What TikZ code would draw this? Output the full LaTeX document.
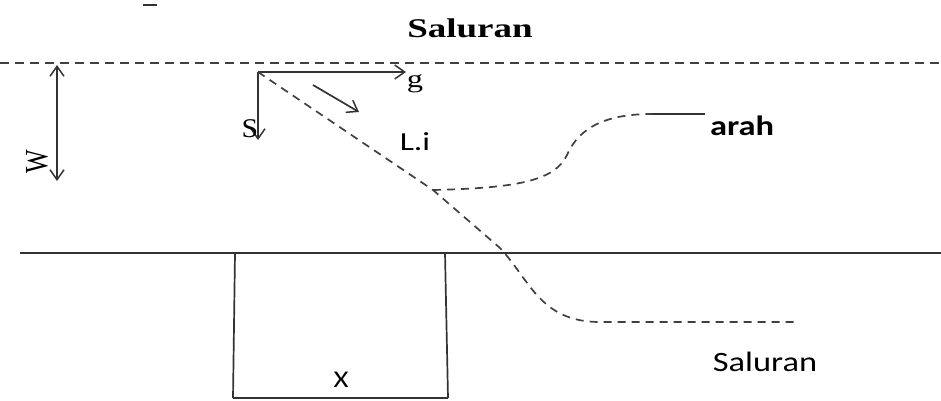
\documentclass[tikz,border=0pt]{standalone}
\usepackage{fontspec}
\setmainfont{Liberation Serif}
\setsansfont{Carlito}
\usetikzlibrary{arrows.meta}
\begin{document}
\begin{tikzpicture}[x=1pt,y=-1pt,
  ln/.style={draw=black!80,line width=1.7pt},
  dsh/.style={draw=black!75,line width=1.7pt,dash pattern=on 8pt off 6pt},
  arr/.style={ln,-{Straight Barb[length=10pt,width=14pt,line width=1.5pt]}},
  darr/.style={ln,{Straight Barb[length=10pt,width=14pt,line width=1.5pt]}-{Straight Barb[length=10pt,width=14pt,line width=1.5pt]}},
  lbl/.style={inner sep=0pt,text=black}]
\useasboundingbox (0,0) rectangle (941,400);
% top tiny dash
\coordinate (t1) at (143,5); \coordinate (t2) at (157,5);
\draw[ln] (t1) -- (t2);
\node[lbl,xscale=1.37,font=\bfseries\fontsize{27}{27}\selectfont] (title) at (470,28) {Saluran};
% top dashed water line
\coordinate (d1) at (0,63); \coordinate (d2) at (941,63);
\draw[ln,draw=black!75,dash pattern=on 9pt off 6pt] (d1) -- (d2);
% W double arrow
\coordinate (w1) at (57,65); \coordinate (w2) at (57,181);
\draw[darr] (w1) -- (w2);
\node[lbl,rotate=90,font=\fontsize{25}{25}\selectfont] (W) at (37,162) {\scalebox{1}[1.3]{W}};
% corner and axes
\coordinate (o) at (258,72);
\coordinate (ge) at (406,72);
\coordinate (se) at (258,140);
\draw[arr] (o) -- (ge);
\draw[arr] (o) -- (se);
\node[lbl,xscale=1.3,font=\fontsize{25}{25}\selectfont] (g) at (415,84) {g};
\node[lbl,xscale=1.1,font=\fontsize{27}{27}\selectfont] (S) at (250,129) {S};
% small direction arrow
\coordinate (a1) at (313,85); \coordinate (a2) at (359,112);
\draw[arr] (a1) -- (a2);
\node[lbl,xscale=1.3,font=\sffamily\fontsize{26}{26}\selectfont] (Li) at (415,142) {L.i};
% L.i dashed line
\coordinate (m) at (433,190);
\coordinate (c) at (500,248);
\coordinate (e) at (795,322);
\draw[dsh] (o) -- (m) -- (c) .. controls (530,280) and (540,322) .. (600,322) -- (e);
% arah curve
\coordinate (r1) at (652,114);
\coordinate (r2) at (705,114);
\draw[dsh] (m) .. controls (520,188) and (555,180) .. (567,155)
  .. controls (580,125) and (610,114) .. (r1);
\draw[ln] (r1) -- (r2);
\node[lbl,xscale=1.23,font=\sffamily\bfseries\fontsize{28}{28}\selectfont] (arah) at (742,126) {arah};
% ground line
\coordinate (h1) at (20,253); \coordinate (h2) at (941,253);
\draw[ln] (h1) -- (h2);
% box
\coordinate (b1) at (235,253); \coordinate (b2) at (233,398);
\coordinate (b3) at (448,398); \coordinate (b4) at (445,253);
\draw[ln] (b1) -- (b2);
\draw[ln] (b4) -- (b3);
\draw[ln] (b2) -- (b3);
\node[lbl,xscale=1.2,font=\sffamily\fontsize{24}{24}\selectfont] (X) at (341,380) {X};
\node[lbl,xscale=1.23,font=\sffamily\fontsize{28}{28}\selectfont] (sal) at (765,362) {Saluran};
\end{tikzpicture}
\end{document}
